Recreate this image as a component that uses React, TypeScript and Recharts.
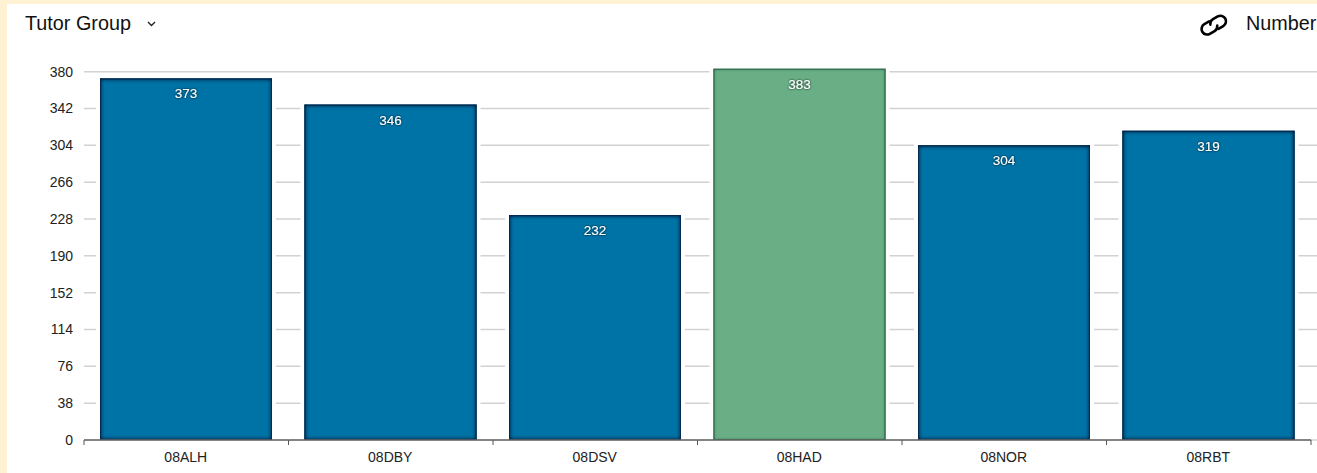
import { BarChart, Bar, XAxis, YAxis, CartesianGrid, LabelList } from "recharts";

const groups = ["08ALH", "08DBY", "08DSV", "08HAD", "08NOR", "08RBT"];
const numbers = [373, 346, 232, 383, 304, 319];
const yTicks = [0, 38, 76, 114, 152, 190, 228, 266, 304, 342, 380];
const highlighted = "08HAD";

const data = groups.map((name, i) => ({ name, value: numbers[i] }));

const font = "Arial, 'Liberation Sans', sans-serif";
const halfBand = 102.25;

function GlowBar(props: any) {
  const { x, y, width, height, name } = props;
  const on = name === highlighted;
  const fill = on ? "#6BAE86" : "#0073A6";
  const edge = on ? "#2F6B4A" : "#04284F";
  const filter = on ? "url(#innerGreen)" : "url(#innerBlue)";
  return (
    <g>
      <rect x={x - 4} y={y - 2} width={width + 8} height={height + 1} fill="#fff" />
      <rect x={x} y={y} width={width} height={height} fill={fill} filter={filter} />
      <rect x={x + 0.5} y={y + 0.5} width={width - 1} height={height - 1} fill="none" stroke={edge} strokeWidth={1} />
    </g>
  );
}

// ticks sit on the band edges in this chart, the label stays in the middle
function GroupTick(props: any) {
  const { x, y, payload, index } = props;
  return (
    <g>
      <line x1={x - halfBand} x2={x + halfBand} y1={y} y2={y} stroke="#666" strokeWidth={1.5} />
      <line x1={x + halfBand} x2={x + halfBand} y1={y} y2={y + 5} stroke="#555" />
      {index === 0 && <line x1={x - halfBand} x2={x - halfBand} y1={y} y2={y + 5} stroke="#555" />}
      <text x={x - 0.5} y={y + 22} textAnchor="middle" fill="#222" fontSize={14} fontFamily={font}>
        {payload.value}
      </text>
    </g>
  );
}

function ValueLabel(props: any) {
  const { x, y, width, value } = props;
  return (
    <text
      x={x + width / 2}
      y={y + 20}
      textAnchor="middle"
      fill="#fff"
      fontSize={13.5}
      fontFamily={font}
      filter="url(#labelGlow)"
    >
      {value}
    </text>
  );
}

export default function App() {
  return (
    <div style={{ position: "absolute", left: 0, top: 0, width: 1317, height: 473, background: "#FFF1D4", overflow: "hidden" }}>
      <div style={{ position: "absolute", left: 7, top: 4, width: 1310, height: 469, background: "#fff" }} />
      <div style={{ position: "absolute", left: 25, top: 12, fontFamily: font, fontSize: 19.8, color: "#111" }}>Tutor Group</div>
      <svg style={{ position: "absolute", left: 146, top: 20 }} width={11} height={8} viewBox="0 0 11 8">
        <path d="M2 2 L5.5 5.5 L9 2" fill="none" stroke="#222" strokeWidth={1.4} />
      </svg>
      <svg style={{ position: "absolute", left: 1199, top: 12 }} width={30} height={26} viewBox="0 0 30 26">
        <g fill="none" stroke="#000" strokeWidth={2.6} strokeLinecap="round" transform="rotate(-30 15 13) translate(-1 0)">
          <path d="M13.5 7.5 H8 a5.5 5.5 0 0 0 0 11 H13.5 a5.5 5.5 0 0 0 5 -3.4" />
          <path d="M18 18.5 H23.5 a5.5 5.5 0 0 0 0 -11 H18 a5.5 5.5 0 0 0 -5 3.4" />
        </g>
      </svg>
      <div style={{ position: "absolute", left: 1246, top: 12, fontFamily: font, fontSize: 19.8, color: "#111", whiteSpace: "nowrap" }}>Number</div>
      <div style={{ position: "absolute", left: 0, top: 0 }}>
        <BarChart
          width={1317}
          height={473}
          data={data}
          margin={{ top: 62, right: 0, bottom: 0, left: 0 }}
          barSize={172}
        >
          <defs>
            <filter id="innerBlue" x="-5%" y="-5%" width="110%" height="110%">
              <feFlood floodColor="#011E42" />
              <feComposite in2="SourceAlpha" operator="out" />
              <feGaussianBlur stdDeviation={2.2} />
              <feComposite in2="SourceAlpha" operator="in" result="edge" />
              <feMerge>
                <feMergeNode in="SourceGraphic" />
                <feMergeNode in="edge" />
                <feMergeNode in="edge" />
                <feMergeNode in="edge" />
              </feMerge>
            </filter>
            <filter id="innerGreen" x="-5%" y="-5%" width="110%" height="110%">
              <feFlood floodColor="#2F6B4A" />
              <feComposite in2="SourceAlpha" operator="out" />
              <feGaussianBlur stdDeviation={1.8} />
              <feComposite in2="SourceAlpha" operator="in" result="edge" />
              <feMerge>
                <feMergeNode in="SourceGraphic" />
                <feMergeNode in="edge" />
                <feMergeNode in="edge" />
              </feMerge>
            </filter>
            <filter id="labelGlow" x="-30%" y="-40%" width="160%" height="180%">
              <feGaussianBlur in="SourceAlpha" stdDeviation={1.2} result="glow" />
              <feMerge>
                <feMergeNode in="glow" />
                <feMergeNode in="SourceGraphic" />
              </feMerge>
            </filter>
          </defs>
          <CartesianGrid vertical={false} stroke="#D2D2D2" strokeWidth={1.5} horizontalValues={yTicks} />
          <XAxis
            dataKey="name"
            padding={{ left: 0, right: 6 }}
            interval={0}
            height={33}
            axisLine={false}
            tickLine={false}
            tickSize={0}
            tickMargin={0}
            tick={<GroupTick />}
          />
          <YAxis
            type="number"
            domain={[0, 390]}
            ticks={yTicks}
            interval={0}
            width={84}
            axisLine={false}
            tickLine={false}
            tickMargin={5}
            tick={{ fill: "#222", fontSize: 14, fontFamily: font }}
          />
          <Bar dataKey="value" isAnimationActive={false} shape={<GlowBar />}>
            <LabelList dataKey="value" content={<ValueLabel />} />
          </Bar>
        </BarChart>
      </div>
    </div>
  );
}
